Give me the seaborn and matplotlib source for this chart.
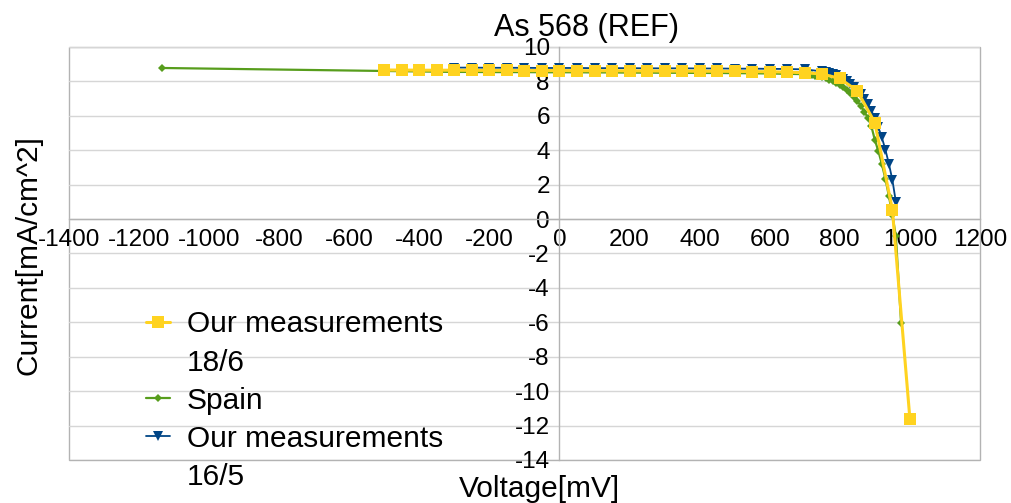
import matplotlib
matplotlib.use("Agg")
import matplotlib.pyplot as plt
from matplotlib.patches import Rectangle
from matplotlib.lines import Line2D
import seaborn as sns

# Series 1: our measurements 18/6 (mV, mA/cm^2)
v_1806 = [-500, -450, -400, -350, -300, -250, -200, -150, -100, -50, 0, 50, 100, 150,
          200, 250, 300, 350, 400, 450, 500, 550, 600, 650, 700, 750, 800, 850, 900,
          950, 1000]
i_1806 = [8.66, 8.66, 8.65, 8.65, 8.65, 8.64, 8.64, 8.64, 8.63, 8.63, 8.63, 8.62, 8.62,
          8.62, 8.61, 8.61, 8.60, 8.60, 8.59, 8.59, 8.58, 8.57, 8.56, 8.54, 8.50, 8.43,
          8.17, 7.45, 5.60, 0.55, -11.6]

# Series 2: Spain
v_spain = [-1135, -300, -250, -200, -150, -100, -50, 0, 50, 100, 150, 200, 250, 300,
           350, 400, 450, 500, 550, 600, 650, 700, 710, 720, 730, 740, 750, 760, 770,
           780, 790, 800, 810, 820, 830, 840, 850, 860, 870, 880, 890, 900, 910, 920,
           930, 940, 950, 960, 975]
i_spain = [8.78, 8.55, 8.55, 8.54, 8.54, 8.54, 8.53, 8.53, 8.53, 8.52, 8.52, 8.51,
           8.51, 8.50, 8.50, 8.49, 8.49, 8.48, 8.47, 8.46, 8.44, 8.42, 8.40, 8.37,
           8.34, 8.30, 8.25, 8.19, 8.11, 8.02, 7.92, 7.80, 7.65, 7.48, 7.30, 7.10,
           6.86, 6.58, 6.25, 5.88, 5.40, 4.60, 3.95, 3.20, 2.35, 1.35, 0.25, -1.00,
           -6.05]

# Series 3: our measurements 16/5
v_1605 = [-300, -250, -200, -150, -100, -50, 0, 50, 100, 150, 200, 250, 300, 350, 400,
          450, 500, 550, 600, 650, 700, 750, 760, 770, 780, 790, 800, 810, 820, 830,
          840, 850, 860, 870, 880, 890, 900, 910, 920, 930, 940, 950, 960]
i_1605 = [8.80, 8.80, 8.79, 8.79, 8.79, 8.78, 8.78, 8.78, 8.77, 8.77, 8.77, 8.76, 8.76,
          8.76, 8.75, 8.75, 8.74, 8.74, 8.73, 8.72, 8.70, 8.58, 8.54, 8.49, 8.43, 8.35,
          8.26, 8.15, 8.02, 7.87, 7.70, 7.50, 7.27, 7.00, 6.68, 6.30, 5.86, 5.34, 4.74,
          4.04, 3.22, 2.28, 1.00]

x_ticks = list(range(-1400, 1201, 200))
y_ticks = list(range(-14, 11, 2))

TITLE = "As 568 (REF)"
X_LABEL = "Voltage[mV]"
Y_LABEL = "Current[mA/cm^2]"

sns.set_theme(style="white")
plt.rcParams["font.family"] = ["Liberation Sans", "DejaVu Sans"]
plt.rcParams["axes.unicode_minus"] = False
plt.rcParams["text.color"] = "black"
plt.rcParams["axes.labelcolor"] = "black"

fig = plt.figure(figsize=(10.11, 5.03), dpi=100)
ax = fig.add_axes([0.0682, 0.0855, 0.9011, 0.8211])

BLUE = "#004586"
YELLOW = "#FFD320"
GREEN = "#579D1C"

sns.lineplot(x=v_1605, y=i_1605, ax=ax, color=BLUE, linewidth=1.3, marker="v",
             markersize=7, markeredgewidth=0, sort=False, estimator=None,
             label="16/5", zorder=3)
sns.lineplot(x=v_spain, y=i_spain, ax=ax, color=GREEN, linewidth=1.6, marker="D",
             markersize=4.5, markeredgewidth=0, sort=False, estimator=None,
             label="Spain", zorder=4)
sns.lineplot(x=v_1806, y=i_1806, ax=ax, color=YELLOW, linewidth=2.2, marker="s",
             markersize=8, markeredgewidth=0, sort=False, estimator=None,
             label="18/6", zorder=5)

ax.set_xlim(-1400, 1200)
ax.set_ylim(-14, 10)
ax.set_xticks(x_ticks)
ax.set_yticks(y_ticks)
ax.tick_params(axis="both", labelsize=17.5, colors="#b3b3b3", labelcolor="black",
               length=4, width=1, direction="out", pad=3)

# horizontal grid only
ax.yaxis.grid(True, color="#d6d6d6", linewidth=1)
ax.xaxis.grid(False)
ax.set_axisbelow(True)

# axes crossing at the origin
for side in ("left", "bottom"):
    ax.spines[side].set_position("zero")
    ax.spines[side].set_color("#b3b3b3")
    ax.spines[side].set_linewidth(1)
for side in ("top", "right"):
    ax.spines[side].set_visible(False)
ax.add_patch(Rectangle((0, 0), 1, 1, transform=ax.transAxes, fill=False,
                       edgecolor="#b3b3b3", linewidth=1, zorder=0.5, clip_on=False))

ax.set_xlabel(X_LABEL, fontsize=21.5, color="black")
ax.set_ylabel(Y_LABEL, fontsize=21.5, color="black")
ax.xaxis.set_label_coords(0.516, -0.037)
ax.yaxis.set_label_coords(-0.0285, 0.497)

fig.text(0.58, 1 - 28 / 503, TITLE, ha="center", va="center", fontsize=22,
         color="black")

# legend: the marker sits on the first line of each wrapped label
h = {lab: hd for hd, lab in zip(*ax.get_legend_handles_labels())}
blank = Line2D([], [], linestyle="none", marker="none")
leg_handles = [h["18/6"], blank, h["Spain"], h["16/5"], blank]
leg_labels = ["Our measurements", "18/6", "Spain", "Our measurements", "16/5"]
ax.legend(leg_handles, leg_labels,
          loc="upper left", bbox_to_anchor=(0.085, 0.362), frameon=False,
          fontsize=21.5, handlelength=0.8, handletextpad=0.55, labelspacing=0.34,
          borderaxespad=0, borderpad=0, labelcolor="black")

fig.savefig("out.png", dpi=100, facecolor="white")
